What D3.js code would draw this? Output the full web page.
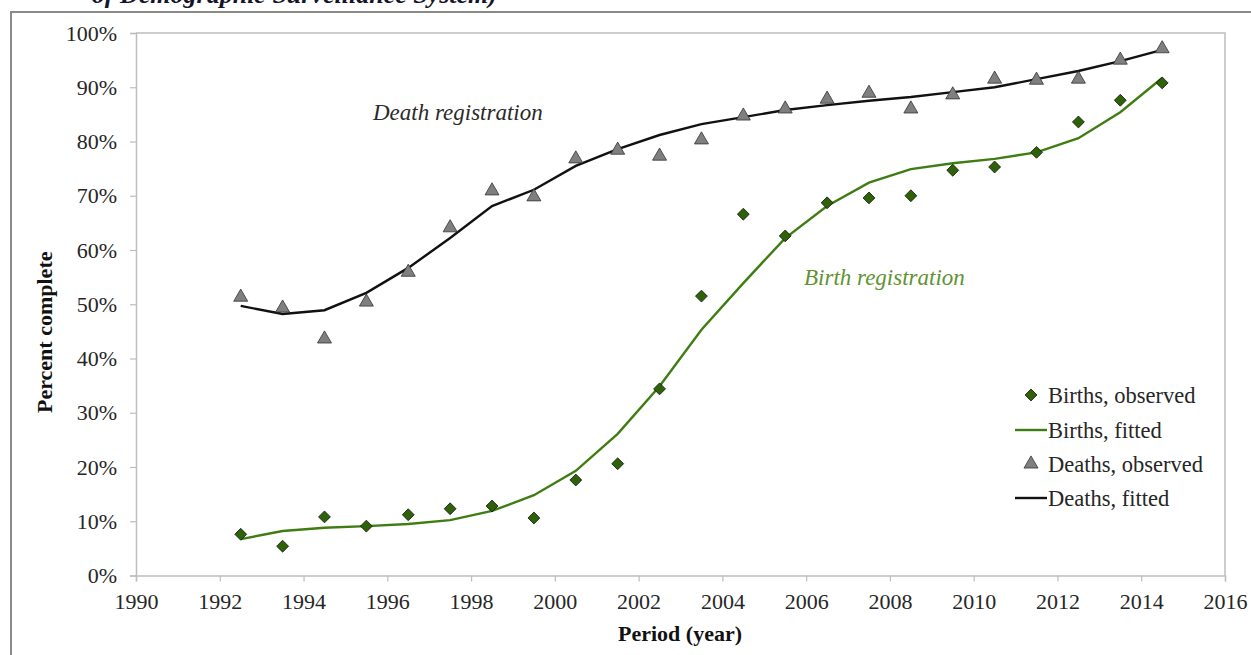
<!DOCTYPE html>
<html>
<head>
<meta charset="utf-8">
<script src="https://cdn.jsdelivr.net/npm/d3@7"></script>
<style>
  html, body { margin: 0; padding: 0; background: #fff; }
  svg { display: block; }
</style>
</head>
<body>
<svg id="chart" width="1251" height="655"></svg>
<script>
// ---- Data ----
const periods = [1992.5, 1993.5, 1994.5, 1995.5, 1996.5, 1997.5, 1998.5, 1999.5, 2000.5, 2001.5, 2002.5, 2003.5,
                 2004.5, 2005.5, 2006.5, 2007.5, 2008.5, 2009.5, 2010.5, 2011.5, 2012.5, 2013.5, 2014.5];
const birthsObserved = [7.6, 5.4, 10.8, 9.1, 11.2, 12.3, 12.8, 10.6, 17.6, 20.6, 34.4, 51.5,
                        66.6, 62.6, 68.7, 69.6, 70.0, 74.7, 75.3, 78.0, 83.6, 87.6, 90.8];
const birthsFitted = [6.7, 8.2, 8.8, 9.1, 9.5, 10.2, 11.9, 14.8, 19.3, 26.1, 34.9, 45.3,
                      53.9, 62.2, 68.1, 72.4, 74.9, 76.0, 76.8, 78.0, 80.6, 85.4, 91.7];
const deathsObserved = [51.3, 49.3, 43.6, 50.4, 55.9, 64.1, 70.9, 69.8, 76.8, 78.4, 77.3, 80.3,
                        84.7, 86.0, 87.8, 88.9, 86.0, 88.6, 91.5, 91.3, 91.5, 95.0, 97.1];
const deathsFitted = [49.7, 48.2, 48.9, 52.1, 56.7, 62.2, 68.1, 71.1, 75.5, 78.6, 81.2, 83.2,
                      84.5, 85.8, 86.7, 87.5, 88.2, 89.1, 90.0, 91.5, 93.0, 94.8, 96.9];
const xTicks = [1990, 1992, 1994, 1996, 1998, 2000, 2002, 2004, 2006, 2008, 2010, 2012, 2014, 2016];
const yTicks = [0, 10, 20, 30, 40, 50, 60, 70, 80, 90, 100];
const legendLabels = ["Births, observed", "Births, fitted", "Deaths, observed", "Deaths, fitted"];

// ---- Styles ----
const SERIF = "'Liberation Serif', 'Times New Roman', Times, serif";
const green = "#3f7d13";
const diamondFill = "#2e6208";
const triFill = "#7f7f7f";
const axisGray = "#bdbdbd";
const textGray = "#262626";
const FS = 22;
const FS2 = 23;
const FSL = 22.5;

const svg = d3.select("#chart").attr("font-family", SERIF);

// Outer frame + cropped caption above it
svg.append("text")
  .attr("x", 497).attr("y", 3)
  .attr("text-anchor", "end")
  .attr("font-family", SERIF)
  .attr("font-size", 26).attr("font-weight", "bold").attr("font-style", "italic")
  .attr("fill", "#15152a")
  .text("of Demographic Surveillance System)");
svg.append("path")
  .attr("d", "M11,655 L11,12 L1251,12")
  .attr("fill", "none").attr("stroke", "#8a8a8a").attr("stroke-width", 2);

const x = d3.scaleLinear().domain([1990, 2016]).range([136, 1225]);
const y = d3.scaleLinear().domain([0, 100]).range([575.5, 33]);

// Plot area box (top and right)
svg.append("path")
  .attr("d", `M${x(1990)},${y(100)} L${x(2016)},${y(100)} L${x(2016)},${y(0)}`)
  .attr("fill", "none").attr("stroke", axisGray).attr("stroke-width", 1.5);

// Axes
const yAxis = svg.append("g")
  .attr("transform", `translate(${x(1990)},0)`)
  .call(d3.axisLeft(y).tickValues(yTicks).tickSize(6).tickPadding(13).tickFormat(d => d + "%"));
const xAxis = svg.append("g")
  .attr("transform", `translate(0,${y(0)})`)
  .call(d3.axisBottom(x).tickValues(xTicks).tickSize(6).tickPadding(12).tickFormat(d3.format("d")));
[yAxis, xAxis].forEach(g => {
  g.attr("font-family", SERIF);
  g.select(".domain").attr("stroke", axisGray).attr("stroke-width", 1.5);
  g.selectAll(".tick line").attr("stroke", axisGray).attr("stroke-width", 1.2);
  g.selectAll(".tick text").attr("font-size", FS).attr("fill", textGray)
    .attr("font-family", SERIF);
});

// Axis titles
svg.append("text")
  .attr("transform", `translate(52,${(y(0) + y(100)) / 2 + 28}) rotate(-90)`)
  .attr("text-anchor", "middle")
  .attr("font-family", SERIF)
  .attr("font-size", FS).attr("font-weight", "bold").attr("fill", "#111")
  .text("Percent complete");
svg.append("text")
  .attr("x", 680).attr("y", 641)
  .attr("text-anchor", "middle")
  .attr("font-family", SERIF)
  .attr("font-size", FS).attr("font-weight", "bold").attr("fill", "#111")
  .text("Period (year)");

// Lines
const line = d3.line().x((d, i) => x(periods[i])).y(d => y(d));
svg.append("path").datum(birthsFitted)
  .attr("d", line).attr("fill", "none").attr("stroke", green).attr("stroke-width", 2.4);
svg.append("path").datum(deathsFitted)
  .attr("d", line).attr("fill", "none").attr("stroke", "#111").attr("stroke-width", 2.4);

// Markers
const diamond = d3.symbol().type(d3.symbolDiamond2).size(90);
const triangle = d3.symbol().type(d3.symbolTriangle).size(85);
svg.append("g").selectAll("path").data(deathsObserved).join("path")
  .attr("transform", (d, i) => `translate(${x(periods[i])},${y(d)})`)
  .attr("d", triangle)
  .attr("fill", triFill).attr("stroke", "#333").attr("stroke-width", 0.8);
svg.append("g").selectAll("path").data(birthsObserved).join("path")
  .attr("transform", (d, i) => `translate(${x(periods[i])},${y(d)})`)
  .attr("d", diamond)
  .attr("fill", diamondFill).attr("stroke", "#111").attr("stroke-width", 0.8);

// Annotations
svg.append("text")
  .attr("x", 373).attr("y", 120)
  .attr("font-family", SERIF)
  .attr("font-size", FS2).attr("font-style", "italic").attr("fill", "#2a2a2a")
  .text("Death registration");
svg.append("text")
  .attr("x", 804).attr("y", 285)
  .attr("font-family", SERIF)
  .attr("font-size", FS2).attr("font-style", "italic").attr("fill", "#5f9232")
  .text("Birth registration");

// Legend
const legRowY = [395, 430, 464, 498];
const leg = svg.append("g");
legendLabels.forEach((lab, i) => {
  const cy = legRowY[i];
  if (i === 0) {
    leg.append("path").attr("transform", `translate(1031,${cy})`).attr("d", diamond)
      .attr("fill", diamondFill).attr("stroke", "#111").attr("stroke-width", 0.8);
  } else if (i === 2) {
    leg.append("path").attr("transform", `translate(1031,${cy})`).attr("d", triangle)
      .attr("fill", triFill).attr("stroke", "#333").attr("stroke-width", 0.8);
  } else {
    leg.append("line").attr("x1", 1015).attr("x2", 1047).attr("y1", cy).attr("y2", cy)
      .attr("stroke", i === 1 ? green : "#111").attr("stroke-width", 2.4);
  }
  leg.append("text").attr("x", 1048).attr("y", cy).attr("dy", "0.35em")
    .attr("font-family", SERIF)
    .attr("font-size", FSL).attr("fill", textGray).text(lab);
});
</script>
</body>
</html>
